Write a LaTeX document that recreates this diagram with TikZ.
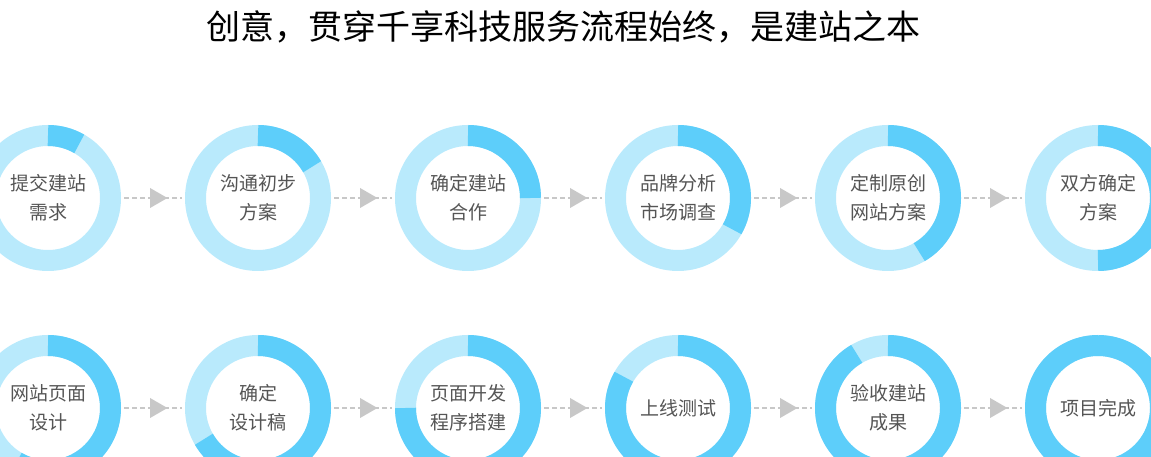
\documentclass[tikz,border=0pt]{standalone}
\usepackage{fontspec}
\setmainfont{Noto Sans CJK SC}
\usetikzlibrary{shapes.geometric}
\definecolor{lt}{HTML}{B9EAFC}
\definecolor{dk}{HTML}{5DCEFA}
\definecolor{tx}{HTML}{555555}
\definecolor{ar}{HTML}{C8C8C8}
\tikzset{
 stepnode/.style={circle,minimum size=146pt,inner sep=0pt,align=center,text=tx,font=\fontsize{19}{29}\selectfont},
 conn/.style={draw=ar,line width=1.6pt,dash pattern=on 5pt off 3pt},
 tri/.style={isosceles triangle,isosceles triangle apex angle=60,fill=ar,inner sep=0pt,minimum height=11pt,minimum width=20pt,draw=none}
}
\newcommand{\ring}[3]{%
 \draw[lt,line width=21pt] (#1) circle (62.5pt);
 \draw[dk,line width=21pt] (#1) ++(90:62.5pt) arc[start angle=90,delta angle=-#2,radius=62.5pt];
 \node[stepnode] (#3) at (#1) {};
}
\begin{document}
\begin{tikzpicture}[x=1pt,y=1pt]
\useasboundingbox (0,0) rectangle (1151,457);
\node[font=\fontsize{34}{40}\selectfont] (title) at (563,430) {创意，贯穿千享科技服务流程始终，是建站之本};
\foreach \i/\x/\y/\a in {1/48/259/30,2/258/259/60,3/468/259/90,4/678/259/120,5/888/259/150,6/1098/259/180,
 7/48/49/210,8/258/49/240,9/468/49/270,10/678/49/300,11/888/49/330,12/1098/49/360}{
 \coordinate (c\i) at (\x,\y);
 \ring{c\i}{\a}{n\i}
}
\node[stepnode] at (c1) {提交建站\\需求};
\node[stepnode] at (c2) {沟通初步\\方案};
\node[stepnode] at (c3) {确定建站\\合作};
\node[stepnode] at (c4) {品牌分析\\市场调查};
\node[stepnode] at (c5) {定制原创\\网站方案};
\node[stepnode] at (c6) {双方确定\\方案};
\node[stepnode] at (c7) {网站页面\\设计};
\node[stepnode] at (c8) {确定\\设计稿};
\node[stepnode] at (c9) {页面开发\\程序搭建};
\node[stepnode] at (c10) {上线测试};
\node[stepnode] at (c11) {验收建站\\成果};
\node[stepnode] at (c12) {项目完成};
\foreach \a/\b in {1/2,2/3,3/4,4/5,5/6,7/8,8/9,9/10,10/11,11/12}{
 \draw[conn] ([xshift=3pt]n\a.east) -- node[tri,pos=0.55]{} ([xshift=-3pt]n\b.west);
}
\end{tikzpicture}
\end{document}
